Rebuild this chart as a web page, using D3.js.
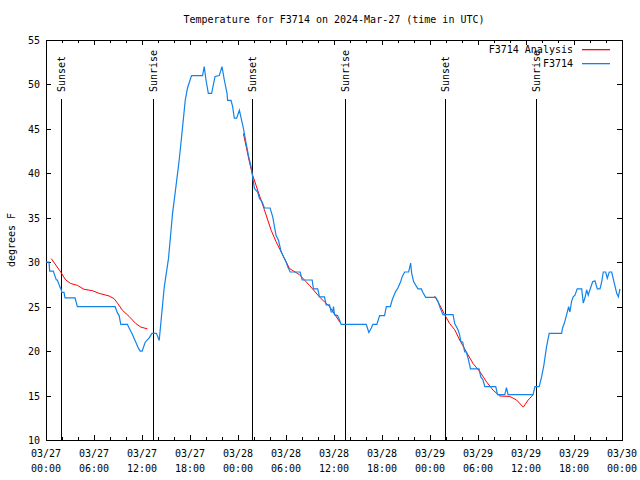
<!DOCTYPE html>
<html><head><meta charset="utf-8">
<script src="https://cdn.jsdelivr.net/npm/d3@7"></script>
<style>
body{margin:0;background:#fff}
svg{display:block}
text{font-family:"DejaVu Sans Mono","Liberation Mono",monospace;font-size:10px;fill:#000}
</style>
</head><body>
<svg id="chart" width="640" height="480"></svg>
<script>
// ---- data (hours since 2024-03-27 00:00 UTC) ----
const title = "Temperature for F3714 on 2024-Mar-27 (time in UTC)";
const yLabel = "degrees F";
const seriesNames = ["F3714 Analysis", "F3714"];
const yTicks = [10, 15, 20, 25, 30, 35, 40, 45, 50, 55];
const xTickDays = ["03/27","03/27","03/27","03/27","03/28","03/28","03/28","03/28","03/29","03/29","03/29","03/29","03/30"];
const xTickTimes = ["00:00","06:00","12:00","18:00","00:00","06:00","12:00","18:00","00:00","06:00","12:00","18:00","00:00"];
const sunHours = [1.88, 13.40, 25.80, 37.32, 49.84, 61.23];
const sunLabels = ["Sunset","Sunrise","Sunset","Sunrise","Sunset","Sunrise"];

const stationHours = [0,0.38,0.46,0.91,1.29,1.42,1.79,1.88,1.97,2.25,2.38,3.63,3.92,8.64,8.93,9.14,9.35,10.18,10.39,10.73,11.23,11.56,11.77,12.02,12.40,12.90,13.24,13.81,14.15,14.78,15.31,15.82,16.24,16.65,17.07,17.41,17.69,18.19,19.57,19.78,20.00,20.29,20.70,21.13,21.66,22.00,22.29,22.63,22.70,23.13,23.33,23.54,23.83,24.17,24.67,25.01,25.33,25.63,25.83,26.05,26.46,26.67,27.01,27.30,28.01,28.34,28.76,29.05,29.39,29.71,30.02,30.22,30.52,31.77,32.02,33.27,33.43,33.97,34.18,34.81,35.02,35.44,35.65,35.81,35.94,36.06,36.44,36.69,36.90,40.03,40.36,40.66,40.86,41.36,41.70,42.32,42.54,43.04,43.29,43.70,43.99,44.33,44.54,44.83,45.33,45.58,45.71,45.96,46.49,46.92,47.12,47.46,48.71,49.00,49.21,49.62,50.88,51.09,51.50,51.71,51.84,52.09,52.34,52.55,52.76,53.06,54.13,54.35,54.63,54.85,56.22,56.44,57.35,57.56,57.76,60.89,61.11,61.65,61.95,62.23,62.57,62.90,64.45,64.57,64.78,65.08,65.33,65.49,65.70,65.90,66.12,66.40,66.96,67.16,67.37,67.58,67.78,67.99,68.33,68.62,68.91,69.25,69.46,69.66,69.96,70.16,70.41,70.71,71.00,71.34,71.54,71.75];
const stationTemps = [30.0,30.0,29.0,29.0,28.0,28.0,27.1,27.0,26.6,26.6,26.0,26.0,25.0,25.0,24.3,24.0,23.0,23.0,22.6,22.0,21.0,20.3,20.0,20.0,21.0,21.5,22.0,22.0,21.2,27.2,30.4,35.5,38.5,41.5,45.2,48.25,49.6,51.0,51.0,52.0,50.5,49.0,49.0,50.9,51.0,52.0,50.5,49.0,48.2,48.2,47.5,46.2,46.2,47.1,45.1,43.4,41.9,40.75,39.6,38.3,37.9,37.2,36.8,36.1,36.1,35.1,33.0,32.5,31.2,30.6,30.0,29.5,28.9,28.9,28.0,28.0,27.0,27.0,26.1,26.1,25.2,25.2,24.4,24.4,25.0,24.1,24.0,23.5,23.0,23.0,22.1,22.6,23.0,23.0,24.0,24.0,25.0,25.0,25.8,26.7,27.1,27.8,28.4,28.9,28.9,29.9,28.75,27.8,27.0,27.0,26.6,26.05,26.05,25.6,25.0,24.1,24.1,23.1,22.4,21.8,21.1,21.0,19.9,19.9,19.2,18.0,18.0,17.1,16.75,16.0,16.0,15.1,15.1,15.9,15.1,15.1,16.0,16.0,17.1,18.4,20.5,22.0,22.0,22.6,23.1,24.1,25.0,24.4,25.6,26.1,26.3,27.0,27.0,25.4,26.0,26.9,26.3,26.9,27.8,27.9,27.0,27.0,27.8,28.9,28.9,28.2,28.9,28.9,27.8,26.5,26.1,27.0];

const analysis1Hours = [0.66,1.84,2.47,3.09,3.92,4.76,5.80,6.64,7.89,8.51,8.93,9.55,10.39,11.23,11.86,12.68];
const analysis1Temps = [30.4,28.9,28.0,27.6,27.4,26.95,26.8,26.5,26.2,25.9,25.4,24.6,23.9,23.1,22.7,22.5];
const analysis2Hours = [24.67,25.42,25.83,26.46,27.30,28.14,28.76,29.59,30.43,31.68,32.93,34.18,35.44,36.78];
const analysis2Temps = [44.5,41.3,39.8,38.1,35.9,33.6,32.3,30.8,29.3,28.6,27.4,26.1,25.0,23.2];
const analysis3Hours = [48.58,49.21,49.83,50.46,51.09,51.71,52.55,53.38,54.22,55.06,55.89,56.73,57.98,58.82,59.66,60.27,60.89];
const analysis3Temps = [26.2,25.2,24.1,23.1,22.4,21.25,19.9,18.6,17.7,16.55,15.6,14.95,14.9,14.5,13.7,14.5,15.1];

// ---- drawing ----
const base = Date.UTC(2024, 2, 27);
const toDate = h => new Date(base + h * 3600e3);
const L = 46, R = 622, T = 40, B = 440;
const blue = "#1283ea", red = "#ff0000";

const svg = d3.select("#chart");
const x = d3.scaleUtc().domain([toDate(0), toDate(72)]).range([L, R]);
const y = d3.scaleLinear().domain([10, 55]).range([B, T]);

// title
svg.append("text").attr("x", (L + R) / 2).attr("y", 19).attr("dy", "0.35em")
  .attr("text-anchor", "middle").text(title);
// y label
svg.append("text").attr("transform", `translate(11,${(T + B) / 2}) rotate(-90)`)
  .attr("dy", "0.35em").attr("text-anchor", "middle").text(yLabel);

const majorX = d3.range(0, 73, 6).map(toDate);
const minorX = d3.range(0, 73, 2).filter(h => h % 6 !== 0).map(toDate);

// bottom axis
svg.append("g").attr("transform", `translate(0,${B})`)
  .call(d3.axisBottom(x).tickValues(majorX).tickSizeInner(-5).tickSizeOuter(0).tickFormat(""))
  .call(g => g.selectAll("text").remove());
svg.append("g").attr("transform", `translate(0,${B})`)
  .call(d3.axisBottom(x).tickValues(minorX).tickSizeInner(-3).tickSizeOuter(0).tickFormat(""))
  .call(g => g.select(".domain").remove());
// top axis
svg.append("g").attr("transform", `translate(0,${T})`)
  .call(d3.axisTop(x).tickValues(majorX).tickSizeInner(-5).tickSizeOuter(0).tickFormat(""));
svg.append("g").attr("transform", `translate(0,${T})`)
  .call(d3.axisTop(x).tickValues(minorX).tickSizeInner(-3).tickSizeOuter(0).tickFormat(""))
  .call(g => g.select(".domain").remove());
// left / right axes
const gL = svg.append("g").attr("transform", `translate(${L},0)`)
  .call(d3.axisLeft(y).tickValues(yTicks).tickSizeInner(-5).tickSizeOuter(0).tickPadding(6).tickFormat(d3.format("d")));
gL.selectAll("text").attr("x", -6).attr("dy", "0.35em");
svg.append("g").attr("transform", `translate(${R},0)`)
  .call(d3.axisRight(y).tickValues(yTicks).tickSizeInner(-5).tickSizeOuter(0).tickFormat(""));

svg.selectAll(".domain, .tick line").attr("stroke", "#000").attr("shape-rendering", "crispEdges");
svg.selectAll(".tick text").style("font-family", '"DejaVu Sans Mono",monospace').style("font-size", "10px").attr("fill", "#000");

// x labels (two lines)
const xl = svg.append("g");
majorX.forEach((d, i) => {
  const t = xl.append("text").attr("text-anchor", "middle").attr("x", x(d));
  t.append("tspan").attr("x", x(d)).attr("y", 456.5).text(xTickDays[i]);
  t.append("tspan").attr("x", x(d)).attr("y", 471.5).text(xTickTimes[i]);
});

// sunrise/sunset
sunHours.forEach((h, i) => {
  const sx = Math.round(x(toDate(h))) + 0.5;
  svg.append("line").attr("x1", sx).attr("x2", sx).attr("y1", 99).attr("y2", B)
    .attr("stroke", "#000").attr("shape-rendering", "crispEdges");
  svg.append("text").attr("transform", `translate(${sx},92) rotate(-90)`)
    .attr("dy", "0.35em").attr("text-anchor", "start").text(sunLabels[i]);
});

// lines
const line = d3.line().x(d => x(toDate(d[0]))).y(d => y(d[1]));
const zip = (a, b) => a.map((v, i) => [v, b[i]]);
[[analysis1Hours, analysis1Temps], [analysis2Hours, analysis2Temps], [analysis3Hours, analysis3Temps]].forEach(([hs, ts]) => {
  svg.append("path").datum(zip(hs, ts)).attr("d", line)
    .attr("fill", "none").attr("stroke", red).attr("stroke-width", 1);
});
svg.append("path").datum(zip(stationHours, stationTemps)).attr("d", line)
  .attr("fill", "none").attr("stroke", blue).attr("stroke-width", 1.2);

// legend
const legend = [[seriesNames[0], red, 49], [seriesNames[1], blue, 63]];
legend.forEach(([name, col, ly]) => {
  svg.append("text").attr("x", 573).attr("y", ly).attr("dy", "0.35em").attr("text-anchor", "end").text(name);
  svg.append("rect").attr("x", 582).attr("y", ly).attr("width", 28).attr("height", 1.3)
    .style("fill", col).style("stroke", "none");
});
</script>
</body></html>
